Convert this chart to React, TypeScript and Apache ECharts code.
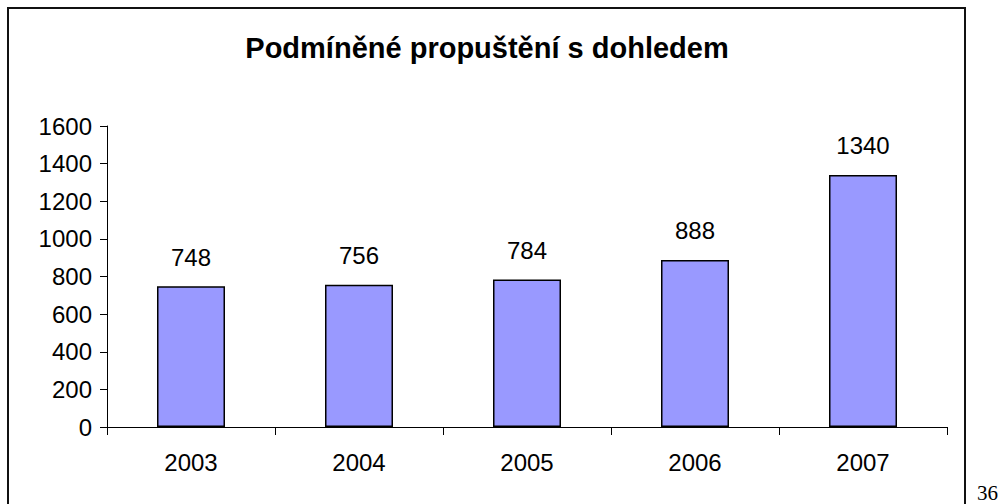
import React, { useEffect, useRef } from "react";
import * as echarts from "echarts";

const categories = ["2003", "2004", "2005", "2006", "2007"];
const values = [748, 756, 784, 888, 1340];
const titleText = "Podmíněné propuštění s dohledem";
const pageNumber = "36";

const FONT = "Arial, 'Liberation Sans', sans-serif";

export default function App() {
  const ref = useRef<HTMLDivElement>(null);
  useEffect(() => {
    if (!ref.current) return;
    const chart = echarts.init(ref.current, undefined, { renderer: "svg" });
    chart.setOption({
      animation: false,
      backgroundColor: "#fff",
      title: {
        text: titleText,
        left: 482,
        textAlign: "center",
        top: 28,
        textStyle: { fontFamily: FONT, fontSize: 29, fontWeight: "bold", color: "#000" },
      },
      grid: { left: 107, right: 56, top: 126, bottom: 77 },
      xAxis: {
        type: "category",
        data: categories,
        boundaryGap: true,
        axisLine: { show: true, lineStyle: { color: "#000", width: 1 } },
        axisTick: { show: true, length: 8, inside: false, alignWithLabel: false, lineStyle: { color: "#000" } },
        axisLabel: { fontFamily: FONT, fontSize: 24, color: "#000", margin: 23 },
        splitLine: { show: false },
      },
      yAxis: {
        type: "value",
        min: 0,
        max: 1600,
        interval: 200,
        axisLine: { show: true, lineStyle: { color: "#000", width: 1 } },
        axisTick: { show: true, length: 7, lineStyle: { color: "#000" } },
        axisLabel: {
          fontFamily: FONT,
          fontSize: 24,
          color: "#000",
          margin: 15,
          formatter: (v: number) => String(v),
        },
        splitLine: { show: false },
      },
      series: [
        {
          type: "bar",
          data: values,
          barWidth: 68,
          itemStyle: { color: "#9999FF", borderColor: "#000", borderWidth: 1.5 },
          label: {
            show: true,
            position: "top",
            distance: 17,
            fontFamily: FONT,
            fontSize: 24,
            color: "#000",
          },
        },
      ],
      graphic: [
        {
          type: "rect",
          shape: { x: 8, y: 8, width: 957, height: 510 },
          style: { fill: "none", stroke: "#111", lineWidth: 2 },
          silent: true,
        },
        {
          type: "text",
          x: 977,
          y: 503,
          style: {
            text: pageNumber,
            font: "21px 'Liberation Serif', 'DejaVu Serif', serif",
            fill: "#000",
            textVerticalAlign: "bottom",
          },
        },
      ],
    });
    return () => chart.dispose();
  }, []);
  return (
    <div
      ref={ref}
      style={{ position: "absolute", left: 0, top: 0, width: 1003, height: 504 }}
    />
  );
}
